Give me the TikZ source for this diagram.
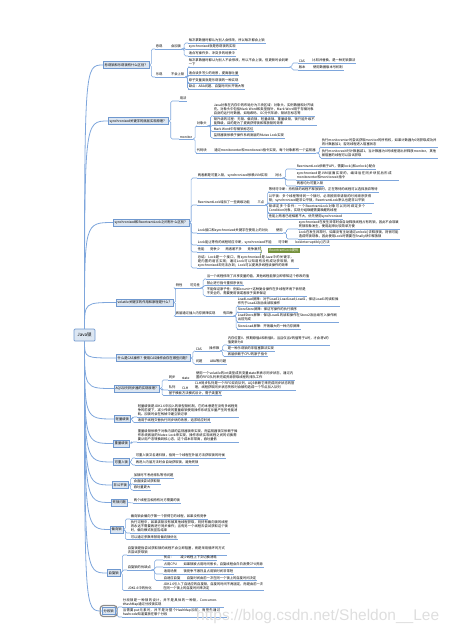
\documentclass[tikz,border=0pt]{standalone}
\usepackage{fontspec}
\newfontfamily\cjk{Noto Sans CJK SC}
\newfontfamily\wmfont{Liberation Sans}
\XeTeXlinebreaklocale "zh"
\XeTeXlinebreakskip=0pt plus 0.5pt
\usetikzlibrary{decorations.pathreplacing}

\definecolor{linkblue}{HTML}{7EA6DC}
\definecolor{topicfill}{HTML}{DCE6F2}
\definecolor{topicdraw}{HTML}{6F98CF}
\definecolor{sumgreen}{HTML}{76923C}

\begin{document}
\begin{tikzpicture}[x=1pt, y=-1pt,
    every node/.style={font=\cjk\fontsize{3.3pt}{4pt}\selectfont, inner sep=0.6pt},
    link/.style={draw=linkblue, line width=0.55pt},
    trunk/.style={link, line width=0.8pt},
    elbow/.style={link, rounded corners=1.5pt},
    topic/.style={draw=topicdraw, fill=topicfill, line width=0.6pt, inner xsep=1.4pt, inner ysep=1.8pt, anchor=west},
    item/.style={anchor=south west, align=left, append after command={(\tikzlastnode.south west) edge[link] (\tikzlastnode.south east)}},
    rootbox/.style={draw=topicdraw, fill=topicfill, line width=0.7pt, rounded corners=1pt, minimum width=21pt, minimum height=12pt, font=\cjk\fontsize{4.5pt}{5pt}\selectfont},
    summary/.style={fill=sumgreen, text=white, anchor=west, inner xsep=1.2pt, inner ysep=0.9pt},
    sumbrace/.style={draw=sumgreen, line width=0.5pt, decorate, decoration={brace, amplitude=1.5pt}},
    selring/.style={draw=black!45, line width=1.2pt, rounded corners=3pt},
    watermark/.style={font=\wmfont\fontsize{15.5pt}{15.5pt}\selectfont, text=black!13, inner sep=0pt, anchor=west},
  ]
  \useasboundingbox (0,0) rectangle (454,633);

  % Root
  \node[rootbox] (root) at (84.5,335) {Java锁};

  % Main topics
  \node[topic] (b1) at (103,65) {悲观锁和乐观锁有什么区别？};
  \node[topic] (b2) at (108,121) {synchronized关键字的底层实现原理？};
  \node[topic] (b3) at (113,222.5) {synchronized和ReentrantLock之间有什么区别？};
  \node[topic] (b4) at (116,302.5) {volatile关键字的作用和原理是什么？};
  \node[topic] (b5) at (116,358) {什么是CAS操作？使用CAS操作会存在哪些问题？};
  \node[topic] (b6) at (114,388.5) {AQS队列同步器的实现原理？};
  \node[topic] (b7) at (114,419) {轻量级锁};
  \node[topic] (b8) at (113,443.5) {重量级锁};
  \node[topic] (b9) at (113,462) {可重入锁};
  \node[topic] (b10) at (112,485) {非公平锁};
  \node[topic] (b11) at (111,502.5) {死锁问题};
  \node[topic] (b12) at (110,529.5) {偏向锁};
  \node[topic] (b13) at (107,573) {自旋锁};
  \node[topic] (b14) at (102,611) {分段锁};
  \draw[selring] ([shift={(-1.8pt,-1.8pt)}]b14.south west) rectangle ([shift={(1.8pt,1.8pt)}]b14.north east);

  % Links from the root
  \foreach \b in {b1,b2,b3,b4}
    \draw[trunk] (root.north) .. controls (root.north |- \b.west) .. (\b.west);
  \foreach \b in {b5,b6,b7,b8,b9,b10,b11,b12,b13,b14}
    \draw[trunk] (root.south) .. controls (root.south |- \b.west) .. (\b.west);

  % Branch 1
  \node[item] (b1a) at (155,49) {悲观};
  \node[item] (b1ax) at ([xshift=7pt]b1a.south east) {会加锁};
  \node[item] (b1a1) at (188,43) {每次拿数据时都认为别人会修改，所以每次都会上锁};
  \node[item] (b1a2) at (188,49.5) {synchronized就是悲观锁的实现};
  \node[item] (b1a3) at (188,56) {适合写操作多、冲突多的场景中};
  \node[item] (b1b) at (155,77) {乐观};
  \node[item] (b1bx) at ([xshift=7pt]b1b.south east) {不会上锁};
  \node[item, text width=100pt] (b1b1) at (188,67) {每次拿数据时都认为别人不会修改，所以不会上锁，但更新时会判断一下};
  \node[item] (b1b2) at (188,75.5) {适合读多写少的场景，提高吞吐量};
  \node[item] (b1b3) at (188,83) {原子变量类就是乐观锁的一种实现};
  \node[item] (b1b4) at (188,89) {缺点：ABA问题、自旋时间长开销大等};
  \node[item] (b1c) at (298,63) {CAS};
  \node[item] (b1cx) at ([xshift=6pt]b1c.south east) {比较并替换，是一种无锁算法};
  \node[item] (b1d) at (298,70) {版本};
  \node[item] (b1dx) at ([xshift=6pt]b1d.south east) {使用数据版本号机制};
  \foreach \n in {b1a,b1b} \draw[elbow] (b1.east) -- ++(2,0) |- (\n.south west);
  \foreach \n in {b1a1,b1a2,b1a3} \draw[elbow] (b1ax.south east) -- ++(2.5,0) |- (\n.south west);
  \foreach \n in {b1b1,b1b2,b1b3,b1b4} \draw[elbow] (b1bx.south east) -- ++(2.5,0) |- (\n.south west);
  \foreach \n in {b1c,b1d} \draw[elbow] (b1b1.south east) -- ++(2.5,0) |- (\n.south west);
  \foreach \p/\q in {b1a/b1ax,b1b/b1bx,b1c/b1cx,b1d/b1dx} \draw[link] (\p.south east) -- (\q.south west);

  % Branch 2
  \node[item] (b2a) at (179,101) {用法};
  \node[item] (b2b) at (179,139) {monitor};
  \node[item] (b2c) at (196,126) {对象头};
  \node[item] (b2d) at (196,153) {代码块};
  \node[item] (b2dx) at ([xshift=6pt]b2d.south east) {通过monitorenter和monitorexit指令实现，每个对象都有一个监视器};
  \node[item, text width=100pt] (b2c1) at (213,116) {Java对象在内存中的布局分为三块区域：对象头、实例数据和对齐填充。对象头中包括Mark Word和类型指针，Mark Word用于存储对象自身的运行时数据，如哈希码、GC分代年龄、锁状态标志等};
  \node[item, text width=102pt] (b2c2) at (213,125.5) {锁升级的过程：无锁、偏向锁、轻量级锁、重量级锁，锁只能升级不能降级，目的是为了提高获得锁和释放锁的效率};
  \node[item] (b2c3) at (213,131.5) {Mark Word中存储锁标志位};
  \node[item] (b2c4) at (213,138) {监视器锁依赖于操作系统底层的Mutex Lock实现};
  \node[item, text width=115pt] (b2d1) at (321,147) {执行monitorenter时尝试获取monitor的所有权，如果计数器为0则获取成功并将计数器加1；否则线程进入阻塞状态};
  \node[item, text width=115pt] (b2d2) at (321,158) {执行monitorexit时计数器减1，当计数器为0时线程退出并释放monitor，其他被阻塞的线程可以尝试获取};
  \foreach \n in {b2a,b2b} \draw[elbow] (b2.east) -- ++(2.5,0) |- (\n.south west);
  \foreach \n in {b2c,b2d} \draw[elbow] (b2b.south east) -- ++(2,0) |- (\n.south west);
  \foreach \n in {b2c1,b2c2,b2c3,b2c4} \draw[elbow] (b2c.south east) -- ++(3,0) |- (\n.south west);
  \foreach \n in {b2d1,b2d2} \draw[elbow] (b2dx.south east) -- ++(3,0) |- (\n.south west);
  \draw[link] (b2d.south east) -- (b2dx.south west);

  % Branch 3
  \node[item] (b3a) at (197,178) {两者都是可重入锁，synchronized依赖JVM实现};
  \node[item] (b3ax) at ([xshift=6pt]b3a.south east) {对比};
  \node[item] (b3a1) at (296,169) {ReentrantLock依赖于API，需要lock()和unlock()配合};
  \node[item, text width=101pt] (b3a2) at (296,180) {synchronized是JVM层面实现的，编译后在同步块前后形成monitorenter和monitorexit指令};
  \node[item] (b3a3) at (296,186) {两者均为可重入锁};
  \node[item] (b3b) at (197,205) {ReentrantLock增加了一些高级功能};
  \node[item] (b3bx) at ([xshift=6pt]b3b.south east) {三点};
  \node[item] (b3b1) at (268,192) {等待可中断：持有锁的线程不释放锁时，正在等待的线程可以选择放弃等待};
  \node[item, text width=104pt] (b3b2) at (268,203) {公平锁：多个线程等待同一个锁时，必须按照申请锁的时间顺序获得锁；synchronized是非公平锁，ReentrantLock默认也是非公平锁};
  \node[item, text width=102pt] (b3b3) at (268,213) {锁绑定多个条件：一个ReentrantLock对象可以同时绑定多个Condition对象，实现分组唤醒需要唤醒的线程};
  \node[item] (b3b4) at (268,219) {性能上两者已经相差不大，优先使用synchronized};
  \node[item] (b3c) at (197,233) {Lock接口和synchronized关键字在使用上的对比};
  \node[item] (b3cx) at ([xshift=6pt]b3c.south east) {使用};
  \node[item, text width=100pt] (b3c1) at (298,229) {synchronized在发生异常时会自动释放线程占有的锁，因此不会导致死锁现象发生，使用起来比较简单方便};
  \node[item, text width=100pt] (b3c2) at (298,239) {Lock在发生异常时，如果没有主动通过unlock()去释放锁，则很可能造成死锁现象，因此使用Lock时需要在finally块中释放锁};
  \node[item] (b3d) at (197,245) {Lock能让等待的线程响应中断，synchronized不能};
  \node[item] (b3dx) at ([xshift=5pt]b3d.south east) {可中断};
  \node[item] (b3dy) at ([xshift=5pt]b3dx.south east) {lockInterruptibly()方法};
  \node[item] (b3e) at (197,252) {性能};
  \node[item] (b3ex) at ([xshift=4pt]b3e.south east) {竞争少};
  \node[item] (b3ey) at ([xshift=4pt]b3ex.south east) {两者差不多};
  \node[item] (b3ez) at ([xshift=4pt]b3ey.south east) {竞争激烈};
  \coordinate (sumtop) at (260,246.5);
  \coordinate (sumbot) at (260,255.5);
  \draw[sumbrace] (sumtop) -- (sumbot);
  \node[summary] (b3s) at (268,250.5) {ReentrantLock更优};
  \node[item, text width=100pt] (b3f) at (197,268) {总结：Lock是一个接口，而synchronized是Java中的关键字，是内置的语言实现；通过Lock可以知道有没有成功获取锁，而synchronized却无法办到；Lock可以提高多线程读操作的效率};
  \foreach \n in {b3a,b3b,b3c,b3d,b3e,b3f} \draw[elbow] (b3.east) -- ++(2,0) |- (\n.south west);
  \foreach \n in {b3a1,b3a2,b3a3} \draw[elbow] (b3ax.south east) -- ++(3,0) |- (\n.south west);
  \foreach \n in {b3b1,b3b2,b3b3,b3b4} \draw[elbow] (b3bx.south east) -- ++(2.5,0) |- (\n.south west);
  \foreach \n in {b3c1,b3c2} \draw[elbow] (b3cx.south east) -- ++(3,0) |- (\n.south west);
  \foreach \p/\q in {b3a/b3ax,b3b/b3bx,b3c/b3cx,b3d/b3dx,b3dx/b3dy,b3e/b3ex,b3ex/b3ey,b3ey/b3ez} \draw[link] (\p.south east) -- (\q.south west);

  % Branch 4
  \node[item] (b4a) at (175,288) {特性};
  \node[item] (b4ax) at ([xshift=6pt]b4a.south east) {可见性};
  \node[item] (b4a1) at (206,279) {当一个线程修改了共享变量的值，其他线程能够立即得知这个修改的值};
  \node[item] (b4a2) at (206,285.5) {禁止进行指令重排序优化};
  \node[item, text width=99pt] (b4a3) at (206,296) {不能保证原子性：例如count++这种复合操作在多线程环境下依然是不安全的，需要使用锁或者原子类来保证};
  \node[item] (b4b) at (175,316) {底层通过插入内存屏障实现};
  \node[item] (b4bx) at ([xshift=6pt]b4b.south east) {有四种};
  \node[item, text width=101pt] (b4b1) at (237,306) {LoadLoad屏障：对于Load1;LoadLoad;Load2，保证Load1的读取操作先于Load2及后续读取操作};
  \node[item] (b4b2) at (237,312) {StoreStore屏障：保证写操作的执行顺序};
  \node[item, text width=100pt] (b4b3) at (237,322) {LoadStore屏障：保证Load1的读取操作在Store2及后续写入操作刷出前完成};
  \node[item] (b4b4) at (237,329) {StoreLoad屏障：开销最大的一种内存屏障};
  \foreach \n in {b4a,b4b} \draw[elbow] (b4.east) -- ++(2,0) |- (\n.south west);
  \foreach \n in {b4a1,b4a2,b4a3} \draw[elbow] (b4ax.south east) -- ++(2.5,0) |- (\n.south west);
  \foreach \n in {b4b1,b4b2,b4b3,b4b4} \draw[elbow] (b4bx.south east) -- ++(2.5,0) |- (\n.south west);
  \foreach \p/\q in {b4a/b4ax,b4b/b4bx} \draw[link] (\p.south east) -- (\q.south west);

  % Branch 5
  \node[item] (b5a) at (195,351) {CAS};
  \node[item] (b5ax) at ([xshift=6pt]b5a.south east) {操作数};
  \node[item, text width=101pt] (b5a1) at (227,345) {内存位置V、预期原值A和新值B，当且仅当V的值等于A时，才会将V的值更新为B};
  \node[item] (b5a2) at (227,351) {是一种乐观锁的非阻塞算法实现};
  \node[item] (b5a3) at (227,356.5) {底层依赖于CPU的原子指令};
  \node[item] (b5b) at (195,364) {问题};
  \node[item] (b5bx) at ([xshift=6pt]b5b.south east) {ABA等问题};
  \foreach \n in {b5a,b5b} \draw[elbow] (b5.east) -- ++(2,0) |- (\n.south west);
  \foreach \n in {b5a1,b5a2,b5a3} \draw[elbow] (b5ax.south east) -- ++(2.5,0) |- (\n.south west);
  \foreach \p/\q in {b5a/b5ax,b5b/b5bx} \draw[link] (\p.south east) -- (\q.south west);

  % Branch 6
  \node[item] (b6a) at (168,380) {同步};
  \node[item] (b6ax) at ([xshift=5pt]b6a.south east) {state};
  \node[item, text width=98pt] (b6ay) at ([xshift=5pt]b6ax.south east) {使用一个volatile的int类型成员变量state来表示同步状态，通过内置的FIFO队列来完成资源获取线程的排队工作};
  \node[item] (b6b) at (168,390) {队列};
  \node[item] (b6bx) at ([xshift=5pt]b6b.south east) {CLH};
  \node[item, text width=100pt] (b6by) at ([xshift=5pt]b6bx.south east) {CLH同步队列是一个FIFO双向队列，AQS依赖它来完成同步状态的管理，线程获取同步状态失败时会被构造成一个节点加入队列};
  \node[item] (b6c) at (168,395.5) {基于模板方法模式设计，需子类重写};
  \foreach \n in {b6a,b6b,b6c} \draw[elbow] (b6.east) -- ++(2,0) |- (\n.south west);
  \foreach \p/\q in {b6a/b6ax,b6ax/b6ay,b6b/b6bx,b6bx/b6by} \draw[link] (\p.south east) -- (\q.south west);

  % Branch 7
  \node[item, text width=100pt] (b7a) at (137,417) {轻量级锁是JDK1.6中加入的新型锁机制，它的本意是在没有多线程竞争的前提下，减少传统的重量级锁使用操作系统互斥量产生的性能消耗。加锁时会在栈帧中建立锁记录};
  \node[item] (b7b) at (137,422.5) {适用于线程交替执行同步块的场景，追求响应时间};
  \foreach \n in {b7a,b7b} \draw[elbow] (b7.east) -- ++(2,0) |- (\n.south west);

  % Branch 8
  \node[item, text width=100pt] (b8a) at (137,442) {重量级锁依赖于对象内部的监视器锁来实现，而监视器锁又依赖于操作系统底层的Mutex Lock来实现，操作系统实现线程之间的切换需要从用户态转换到核心态，这个成本非常高，吞吐量低};
  \draw[elbow] (b8.east) -- ++(2,0) |- (b8a.south west);

  % Branch 9
  \node[item] (b9a) at (135,458) {可重入锁又名递归锁，指同一个线程在外层方法获取锁的时候};
  \node[item] (b9b) at (135,465) {再进入内层方法时会自动获取锁，避免死锁};
  \foreach \n in {b9a,b9b} \draw[elbow] (b9.east) -- ++(2,0) |- (\n.south west);

  % Branch 10
  \node[item] (b10a) at (133,478) {加锁时不考虑排队等待问题};
  \node[item] (b10b) at (133,484) {会直接尝试获取锁};
  \node[item] (b10c) at (133,490) {吞吐量更大};
  \foreach \n in {b10a,b10b,b10c} \draw[elbow] (b10.east) -- ++(2,0) |- (\n.south west);

  % Branch 11
  \node[item] (b11a) at (133,503) {两个线程互相持有对方需要的锁};
  \draw[link] (b11.east) -- (b11a.south west);

  % Branch 12
  \node[item] (b12a) at (130,519) {偏向锁会偏向于第一个获得它的线程，如果没有竞争};
  \node[item, text width=98pt] (b12b) at (130,533) {执行过程中，如果该锁没有被其他线程获取，则持有偏向锁的线程将永远不需要再进行同步操作；当有另一个线程去尝试获取这个锁时，偏向模式就宣告结束};
  \node[item] (b12c) at (130,539.5) {可以通过参数来禁用偏向锁优化};
  \foreach \n in {b12a,b12b,b12c} \draw[elbow] (b12.east) -- ++(2,0) |- (\n.south west);

  % Branch 13
  \node[item, text width=98pt] (b13a) at (127,555) {自旋锁是指尝试获取锁的线程不会立即阻塞，而是采用循环的方式去尝试获取锁};
  \node[item] (b13b) at (127,570) {自旋锁的优缺点};
  \node[item] (b13b1) at (163,560) {优点：};
  \node[item] (b13b1x) at ([xshift=5pt]b13b1.south east) {减少线程上下文切换消耗};
  \node[item] (b13b2) at (163,567) {占用CPU};
  \node[item] (b13b2x) at ([xshift=5pt]b13b2.south east) {如果锁被占用时间很长，自旋线程会白白浪费CPU资源};
  \node[item] (b13b3) at (163,574) {适用场景};
  \node[item] (b13b3x) at ([xshift=5pt]b13b3.south east) {锁竞争不激烈且占用锁时间非常短};
  \node[item] (b13b4) at (163,580.5) {自适应自旋};
  \node[item] (b13b4x) at ([xshift=5pt]b13b4.south east) {自旋时间由前一次在同一个锁上的自旋时间决定};
  \node[item] (b13c) at (127,590.5) {JDK1.6中的优化};
  \node[item, text width=100pt] (b13cx) at ([xshift=10pt]b13c.south east) {JDK1.6引入了自适应的自旋锁，自旋的时间不再固定，而是由前一次在同一个锁上的自旋时间来决定};
  \foreach \n in {b13a,b13b,b13c} \draw[elbow] (b13.east) -- ++(2,0) |- (\n.south west);
  \foreach \n in {b13b1,b13b2,b13b3,b13b4} \draw[elbow] (b13b.south east) -- ++(3,0) |- (\n.south west);
  \foreach \p/\q in {b13b1/b13b1x,b13b2/b13b2x,b13b3/b13b3x,b13b4/b13b4x,b13c/b13cx} \draw[link] (\p.south east) -- (\q.south west);

  % Branch 14
  \node[item, text width=100pt] (b14a) at (122,607) {分段锁是一种锁的设计，并不是具体的一种锁，ConcurrentHashMap通过分段锁实现};
  \node[item, text width=103pt] (b14b) at (122,617) {当需要put元素时，并不是对整个HashMap加锁，而是先通过hashcode知道要放在哪个分段};
  \foreach \n in {b14a,b14b} \draw[elbow] (b14.east) -- ++(2,0) |- (\n.south west);

  % Watermark
  \node[watermark] (wm) at (196,616.5) {https://blog.csdn.net/Sheldon\_\_Lee};
\end{tikzpicture}
\end{document}
